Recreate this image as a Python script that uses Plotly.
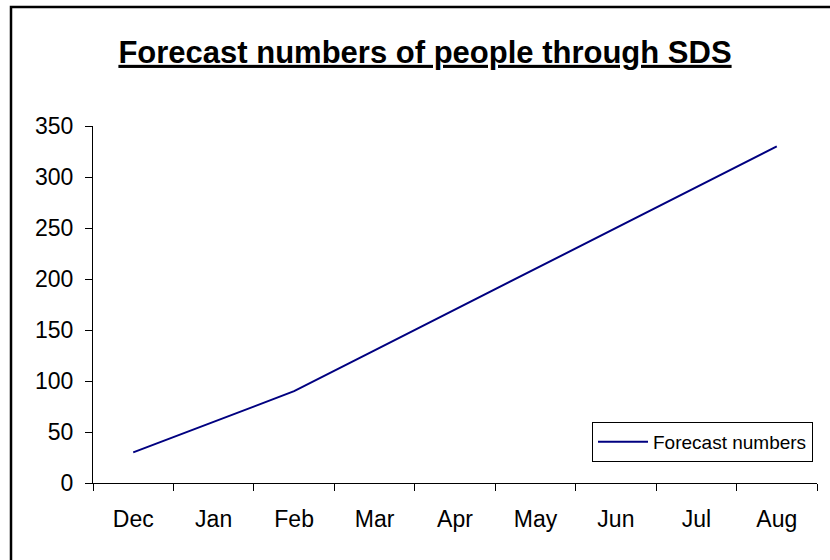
import plotly.graph_objects as go

months = ["Dec", "Jan", "Feb", "Mar", "Apr", "May", "Jun", "Jul", "Aug"]
forecast = [30, 60, 90, 130, 170, 210, 250, 290, 330]
y_ticks = [0, 50, 100, 150, 200, 250, 300, 350]

W, H = 830, 560
fig = go.Figure()
fig.add_trace(go.Scatter(
    x=months, y=forecast, mode="lines", name="Forecast numbers",
    line=dict(color="#000080", width=2),
))

font_family = "Liberation Sans, Arial, sans-serif"
fig.update_layout(
    width=W, height=H,
    margin=dict(l=0, r=0, t=0, b=0, autoexpand=False),
    paper_bgcolor="white", plot_bgcolor="white",
    font=dict(family=font_family, color="black", size=23),
    title=dict(
        text="<b><u>Forecast numbers of people through SDS</u></b>",
        x=425 / W, xanchor="center", y=1 - 52 / H, yanchor="middle",
        font=dict(family=font_family, size=31, color="black"),
    ),
    xaxis=dict(
        domain=[93 / W, 817 / W],
        type="category",
        tickson="boundaries",
        ticks="outside", ticklen=7, tickcolor="black", tickwidth=1,
        showline=True, linecolor="black", linewidth=1,
        showgrid=False, zeroline=False,
        tickfont=dict(size=23),
        ticklabelstandoff=15,
        range=[-0.5, 8.5],
        automargin=False,
    ),
    yaxis=dict(
        domain=[(H - 483) / H, (H - 126) / H],
        range=[0, 350],
        tickvals=y_ticks,
        ticks="outside", ticklen=7, tickcolor="black", tickwidth=1,
        showline=True, linecolor="black", linewidth=1,
        showgrid=False, zeroline=False,
        tickfont=dict(size=23),
        ticklabelstandoff=7,
        automargin=False,
    ),
    showlegend=True,
    legend=dict(
        x=813 / W, xanchor="right", y=1 - 422 / H, yanchor="top",
        bordercolor="black", borderwidth=1, bgcolor="white",
        font=dict(size=19, family=font_family),
        itemwidth=50,
    ),
    shapes=[dict(
        type="rect", xref="paper", yref="paper",
        x0=11 / W, x1=1.05, y0=-0.05, y1=1 - 7 / H,
        line=dict(color="black", width=2.5),
        fillcolor="rgba(0,0,0,0)",
    )],
)

fig.write_html("out.html")
